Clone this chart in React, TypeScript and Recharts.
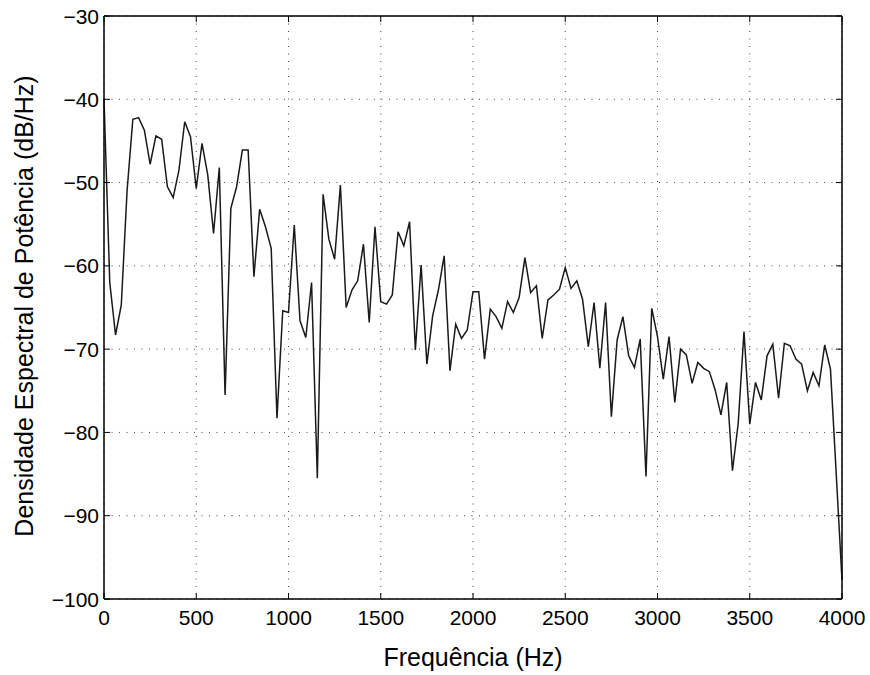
import React from "react";
import {
  LineChart,
  Line,
  XAxis,
  YAxis,
  CartesianGrid,
  Label,
  ReferenceArea,
} from "recharts";

// power spectral density, one value per FFT bin (31.25 Hz spacing, 0..4000 Hz)
const BIN_HZ = 31.25;
const psdDb = [
  -40, -62.0, -68.3, -64.7, -51.0, -42.4, -42.2, -43.7, -47.8, -44.4,
  -44.8, -50.5, -51.8, -48.5, -42.7, -44.5, -50.7, -45.3, -49.1, -56.1,
  -48.2, -75.5, -53.1, -50.5, -46.1, -46.1, -61.3, -53.2, -55.3, -57.9,
  -78.3, -65.4, -65.6, -55.1, -66.6, -68.6, -62.0, -85.5, -51.4, -56.8,
  -59.2, -50.3, -65.0, -62.9, -61.8, -57.4, -66.8, -55.3, -64.3, -64.6,
  -63.5, -55.9, -57.6, -54.7, -70.1, -59.9, -71.8, -66.0, -62.9, -58.8,
  -72.6, -67.0, -68.7, -67.7, -63.1, -63.1, -71.2, -65.2, -66.1, -67.5,
  -64.3, -65.6, -63.8, -59.0, -63.2, -62.4, -68.7, -64.1, -63.5, -62.8,
  -60.2, -62.7, -61.8, -64.0, -69.7, -64.4, -72.3, -64.4, -78.1, -68.9,
  -66.1, -70.8, -72.2, -68.8, -85.3, -65.1, -68.5, -73.6, -68.5, -76.4,
  -70.0, -70.7, -74.1, -71.6, -72.3, -72.7, -74.9, -77.9, -74.0, -84.6,
  -78.9, -67.9, -79.0, -74.0, -76.1, -70.8, -69.4, -75.9, -69.3, -69.6,
  -71.2, -71.8, -75.0, -72.8, -74.4, -69.5, -72.4, -85.0, -97.7,
];

const freqTicks = [0, 500, 1000, 1500, 2000, 2500, 3000, 3500, 4000];
const dbTicks = [-100, -90, -80, -70, -60, -50, -40, -30];

const data = psdDb.map((db, i) => ({ freq: i * BIN_HZ, db }));

const FONT = "'Liberation Sans', Arial, Helvetica, sans-serif";
const TICK_LEN = 6;

const fmt = (v: number) => (v < 0 ? "\u2212" + Math.abs(v) : String(v));

const LeftTick = (props: any) => {
  const { x, y, payload } = props;
  return (
    <g>
      <line x1={x + 5} x2={x + 5 + TICK_LEN} y1={y} y2={y} stroke="#000" />
      <text x={x} y={y} dy="0.36em" textAnchor="end" fontSize={21} fontFamily={FONT} fill="#000">
        {fmt(payload.value)}
      </text>
    </g>
  );
};

const RightTick = (props: any) => {
  const { x, y } = props;
  return <line x1={x} x2={x - TICK_LEN} y1={y} y2={y} stroke="#000" />;
};

const BottomTick = (props: any) => {
  const { x, y, payload } = props;
  return (
    <g>
      <line x1={x} x2={x} y1={y} y2={y - TICK_LEN} stroke="#000" />
      <text x={x} y={y + 26} textAnchor="middle" fontSize={21} fontFamily={FONT} fill="#000">
        {fmt(payload.value)}
      </text>
    </g>
  );
};

const TopTick = (props: any) => {
  const { x, y } = props;
  return <line x1={x} x2={x} y1={y} y2={y + TICK_LEN} stroke="#000" />;
};

const XTitle = () => (
  <text x={473} y={666} textAnchor="middle" fontSize={25} fontFamily={FONT} fill="#000">
    Frequência (Hz)
  </text>
);

const YTitle = () => (
  <text
    x={33}
    y={306}
    transform="rotate(-90 33 306)"
    textAnchor="middle"
    fontSize={25}
    fontFamily={FONT}
    fill="#000"
  >
    Densidade Espectral de Potência (dB/Hz)
  </text>
);

export default function App() {
  return (
    <div style={{ position: "absolute", left: 0, top: 0, width: 870, height: 675, background: "#fff" }}>
      <LineChart width={870} height={675} data={data} margin={{ top: 15, right: 27, bottom: 0, left: 0 }}>
        <CartesianGrid stroke="#444" strokeDasharray="1 6.5" />
        <XAxis
          dataKey="freq"
          type="number"
          domain={[0, 4000]}
          ticks={freqTicks}
          interval={0}
          height={76}
          tickSize={0}
          tickMargin={0}
          tick={<BottomTick />}
          axisLine={{ stroke: "#000" }}
          tickLine={false}
          label={<Label content={<XTitle />} />}
        />
        <XAxis
          xAxisId="top"
          orientation="top"
          dataKey="freq"
          type="number"
          domain={[0, 4000]}
          ticks={freqTicks}
          interval={0}
          height={1}
          tickSize={0}
          tickMargin={0}
          tick={<TopTick />}
          axisLine={{ stroke: "#000" }}
          tickLine={false}
        />
        <YAxis
          type="number"
          domain={[-100, -30]}
          ticks={dbTicks}
          interval={0}
          width={104}
          tickSize={0}
          tickMargin={5}
          tick={<LeftTick />}
          axisLine={{ stroke: "#000" }}
          tickLine={false}
          allowDataOverflow
          label={<Label content={<YTitle />} />}
        />
        <YAxis
          yAxisId="right"
          orientation="right"
          type="number"
          domain={[-100, -30]}
          ticks={dbTicks}
          interval={0}
          width={1}
          tickSize={0}
          tickMargin={0}
          tick={<RightTick />}
          axisLine={{ stroke: "#000" }}
          tickLine={false}
          allowDataOverflow
        />
        {/* frame around the plot area */}
        <ReferenceArea x1={0} x2={4000} y1={-100} y2={-30} fill="none" stroke="#000" strokeWidth={1} ifOverflow="visible" />
        {/* invisible copy so the top/right frame axes get drawn */}
        <Line
          xAxisId="top"
          yAxisId="right"
          type="linear"
          dataKey="db"
          stroke="none"
          dot={false}
          activeDot={false}
          legendType="none"
          isAnimationActive={false}
        />
        <Line
          type="linear"
          dataKey="db"
          stroke="#1a1a1a"
          strokeWidth={1.5}
          dot={false}
          isAnimationActive={false}
        />
      </LineChart>
    </div>
  );
}
